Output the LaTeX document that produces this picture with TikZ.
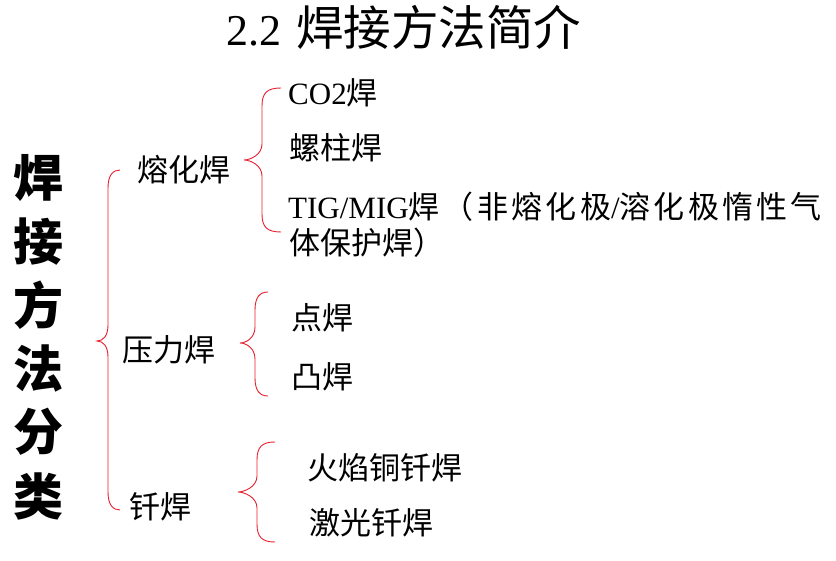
\documentclass[tikz,border=0pt]{standalone}
\usepackage{fontspec}
\setmainfont{Liberation Serif}
\newfontfamily\cjk{Noto Sans CJK SC}
\definecolor{bracered}{RGB}{232,30,45}
\tikzset{
  lbl/.style={inner sep=0pt, anchor=west, font=\fontsize{31}{31}\selectfont\cjk},
  vt/.style={inner sep=0pt, font=\fontsize{50}{50}\selectfont\cjk\bfseries},
  brc/.style={draw=bracered, line width=0.9pt},
}
% top-x, top-y, vertical-x, tip-x, tip-y, bottom-y
\newcommand\mybrace[6]{%
  \draw[brc] (#1,#2) .. controls (#3+5,#2) and (#3,#2+5) .. (#3,#2+18)
    -- (#3,#5-16) .. controls (#3,#5-5) and (#4+6,#5) .. (#4,#5)
    .. controls (#4+6,#5) and (#3,#5+5) .. (#3,#5+16)
    -- (#3,#6-18) .. controls (#3,#6-5) and (#3+5,#6) .. (#1,#6);}
\begin{document}
\begin{tikzpicture}[x=1pt,y=-1pt]
\path[use as bounding box] (0,0) rectangle (836,561);
% title
\node[inner sep=0pt, anchor=west] (title) at (226,27)
  {{\fontsize{44}{44}\selectfont 2.2}\hspace{15pt}{\cjk\fontsize{47.5}{47.5}\selectfont 焊接方法简介}};
% vertical heading
\node[vt] (v1) at (38,178) {焊};
\node[vt] (v2) at (38,241.6) {接};
\node[vt] (v3) at (38,305) {方};
\node[vt] (v4) at (38,369) {法};
\node[vt] (v5) at (38,432) {分};
\node[vt] (v6) at (38,496) {类};
% level 2
\node[lbl] (rh) at (137,170) {熔化焊};
\node[lbl] (yl) at (122,350) {压力焊};
\node[lbl] (qh) at (129,507) {钎焊};
% level 3
\node[lbl] (co2) at (288,93) {{\rmfamily CO2}焊};
\node[lbl] (lz) at (289,148) {螺柱焊};
\node[lbl] (tig1) at (288,207) {{\rmfamily TIG/MIG}{\addfontfeature{LetterSpace=10.5}焊（非熔化极{\rmfamily /}溶化极惰性气}};
\node[lbl] (tig2) at (289,243) {体保护焊）};
\node[lbl] (dh) at (291,318) {点焊};
\node[lbl] (th) at (291,377) {凸焊};
\node[lbl] (hy) at (307,468) {火焰铜钎焊};
\node[lbl] (jg) at (309,523) {激光钎焊};
% braces
\mybrace{120}{170}{108}{97}{341}{510}
\mybrace{281}{88}{262}{244}{160}{232}
\mybrace{268}{292}{255}{240}{343}{396}
\mybrace{275}{442}{257}{238}{492}{542}
\end{tikzpicture}
\end{document}
